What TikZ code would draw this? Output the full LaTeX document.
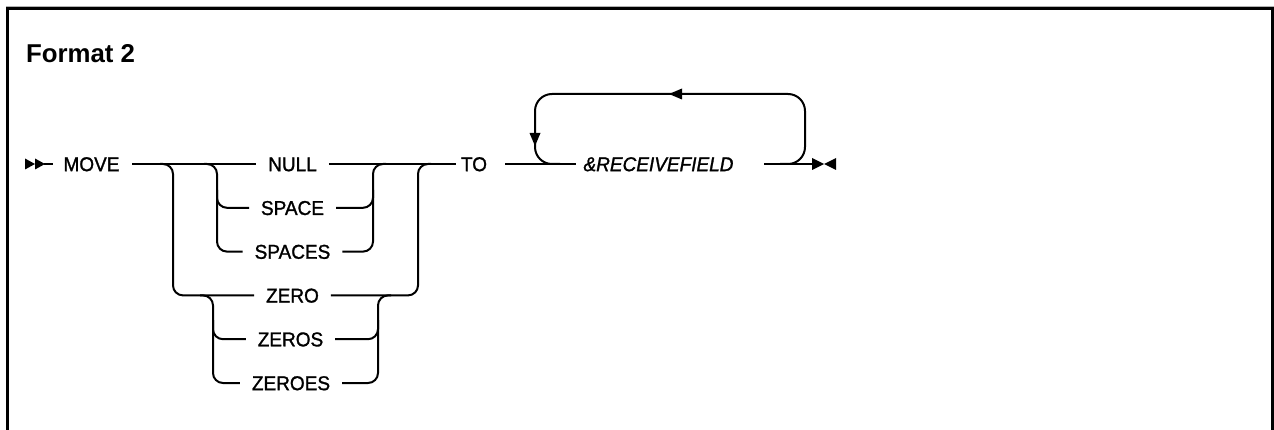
\documentclass[tikz,border=0pt]{standalone}
\usepackage{fontspec}
\setmainfont{Liberation Sans}
\newfontfamily\kwfont[FakeStretch=0.95,FakeBold=1.3]{Liberation Sans}
\begin{document}
\begin{tikzpicture}[x=1pt,y=-1pt,line width=2pt,
  kw/.style={font=\kwfont\fontsize{20}{24}\selectfont, inner sep=0pt, text height=14.3pt, text depth=0pt},
  var/.style={kw, font=\kwfont\fontsize{20}{24}\selectfont\itshape},
  rail/.style={line width=2pt, rounded corners=10pt},
  looprail/.style={line width=2pt, rounded corners=17pt},
  tip/.style={fill=black, draw=none},
  frame/.style={line width=3pt}]
\useasboundingbox (0,0) rectangle (1274,430);
\fill[white] (0,0) rectangle (1274,430);
% frame
\draw[gray!60, line width=1.5pt] (6,6.6) -- (1274,6.6);
\draw[frame] (7.5,432) -- (7.5,9) -- (1272.5,9) -- (1272.5,432);
% title
\node[anchor=base west, font=\fontsize{25.8}{30}\selectfont\bfseries, inner sep=0pt] (title) at (25,62.7) {Format 2};
% text nodes
\node[kw] (move) at (91.5,164) {MOVE};
\node[kw] (null) at (292.5,164) {NULL};
\node[kw] (space) at (292.5,207.8) {SPACE};
\node[kw] (spaces) at (292.5,251.6) {SPACES};
\node[kw] (zero) at (292.5,295.4) {ZERO};
\node[kw] (zeros) at (290.5,339.2) {ZEROS};
\node[kw] (zeroes) at (291,383) {ZEROES};
\node[kw] (to) at (474,164) {TO};
\node[var] (rf) at (658.5,164) {\&RECEIVEFIELD};
% coordinates
\coordinate (s0) at (44,164);
\coordinate (e0) at (813,164);
\coordinate (lpBR) at (805,164);
\coordinate (lpTR) at (805,94);
\coordinate (lpTL) at (535,94);
\coordinate (lpBL) at (535,164);
% start symbol
\fill[tip] (25,158.5) -- (35,164) -- (25,169.5) -- cycle;
\fill[tip] (35,158.5) -- (45,164) -- (35,169.5) -- cycle;
\draw (s0) -- ([xshift=-10]move.west);
% main line
\draw ([xshift=12]move.east) -- ([xshift=-11]null.west);
\draw ([xshift=11]null.east) -- ([xshift=-4]to.west);
\draw ([xshift=17]to.east) -- ([xshift=-7]rf.west);
\draw ([xshift=30]rf.east) -- (e0);
% end symbol
\fill[tip] (812,158) -- (824,164) -- (812,170) -- cycle;
\fill[tip] (836,158) -- (824,164) -- (836,170) -- cycle;
% outer choice
\draw[rail] (160,164) -- (173,164) -- (173,295.4) -- ([xshift=-11]zero.west);
\draw[rail] ([xshift=11]zero.east) -- (418,295.4) -- (418,164) -- (431,164);
% NULL group
\draw[rail] (204,164) -- (217,164) -- (217,251.6) -- ([xshift=-11]spaces.west);
\draw[rail] (217,190) -- (217,207.8) -- ([xshift=-11]space.west);
\draw[rail] ([xshift=11]spaces.east) -- (373,251.6) -- (373,164) -- (386,164);
\draw[rail] ([xshift=11]space.east) -- (373,207.8) -- (373,190);
% ZERO group
\draw[rail] (200,295.4) -- (213,295.4) -- (213,383) -- ([xshift=-11]zeroes.west);
\draw[rail] (213,320) -- (213,339.2) -- ([xshift=-11]zeros.west);
\draw[rail] ([xshift=11]zeroes.east) -- (378,383) -- (378,295.4) -- (391,295.4);
\draw[rail] ([xshift=11]zeros.east) -- (378,339.2) -- (378,320);
% repeat loop
\draw[looprail] (780,164) -- (lpBR) -- (lpTR) -- (lpTL) -- (lpBL) -- (560,164);
\fill[tip] (669,94) -- (682,88.5) -- (682,99.5) -- cycle;
\fill[tip] (535,146) -- (529.5,133) -- (540.5,133) -- cycle;
\end{tikzpicture}
\end{document}
